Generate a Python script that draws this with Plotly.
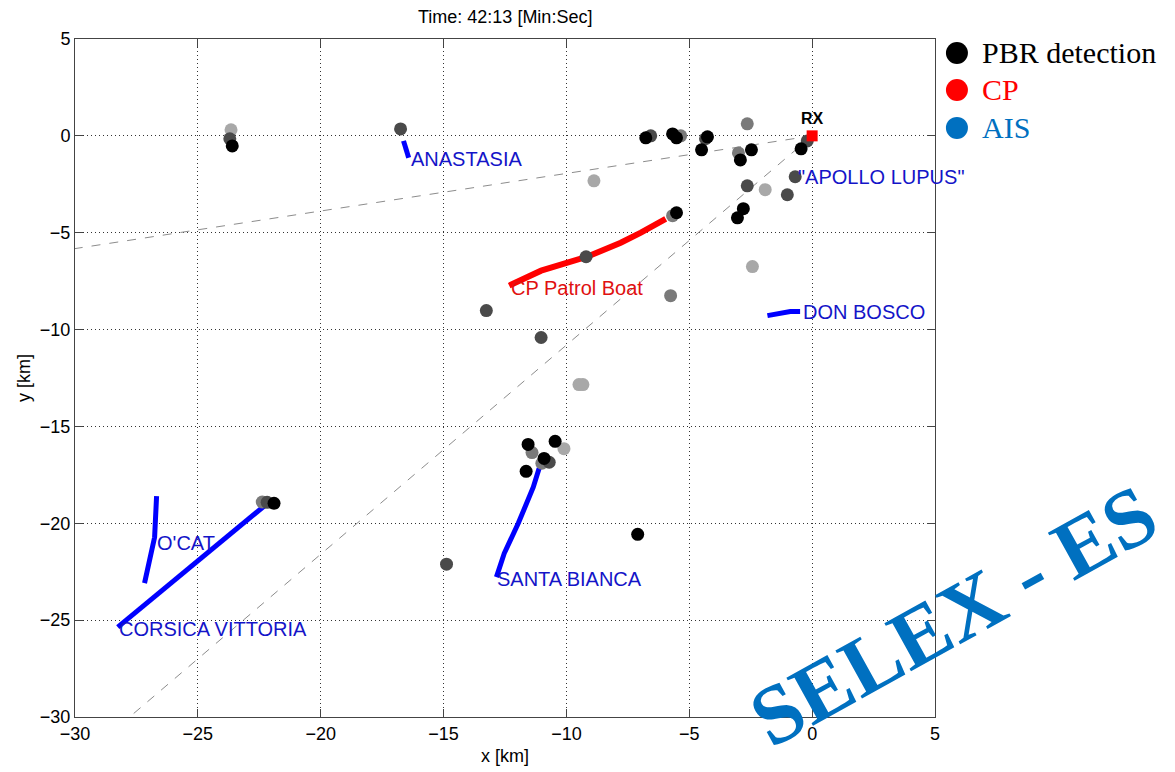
import plotly.graph_objects as go

# ---------------- data ----------------
title_text = "Time: 42:13 [Min:Sec]"
x_ticks = [-30, -25, -20, -15, -10, -5, 0, 5]
y_ticks = [5, 0, -5, -10, -15, -20, -25, -30]

# PBR detections: x [km], y [km], age (0 = newest/black ... 3 = oldest/light)
pbr_x = [-23.65, -23.7, -23.6, -16.75,
         -6.57, -6.77, -5.35, -5.68, -5.52, -4.34, -4.26, -4.50,
         -2.64, -3.0, -2.47, -2.92, -2.64, -1.91, -1.01, -0.69, -0.2, -0.45,
         -2.8, -3.04, -5.68, -5.52, -2.43, -5.76, -8.88, -9.2, -13.26, -11.03,
         -9.49, -9.33,
         -11.4, -11.56, -10.1, -10.46, -10.7, -11.0, -10.91, -11.64, -7.10, -14.88,
         -22.38, -22.18, -21.9]
pbr_y = [0.31, -0.15, -0.52, 0.36,
         0.0, -0.10, 0.0, 0.10, -0.10, -0.15, -0.05, -0.72,
         0.62, -0.88, -0.72, -1.24, -2.58, -2.78, -3.04, -2.11, -0.26, -0.67,
         -3.76, -4.23, -4.12, -3.97, -6.75, -8.25, -2.32, -6.24, -9.02, -10.41,
         -12.84, -12.84,
         -16.35, -15.93, -16.15, -15.77, -16.85, -16.9, -16.65, -17.32, -20.57, -22.11,
         -18.9, -18.92, -18.97]
pbr_age = [3, 1, 0, 1,
           1, 0, 2, 0, 0, 1, 0, 0,
           2, 2, 0, 0, 1, 3, 1, 1, 1, 0,
           0, 0, 2, 0, 3, 2, 3, 1, 1, 1,
           3, 3,
           2, 0, 3, 0, 1, 2, 0, 0, 0, 1,
           2, 1, 0]

# CP patrol boat track
cp_x = [-12.33, -11.03, -9.16, -7.79, -6.97, -5.96]
cp_y = [-7.73, -6.96, -6.24, -5.52, -5.00, -4.28]

# AIS tracks
ais_tracks = {
    "ANASTASIA": ([-16.63, -16.42], [-0.26, -1.13]),
    "DON BOSCO": ([-1.82, -0.89, -0.49], [-9.28, -9.07, -9.07]),
    "SANTA BIANCA": ([-11.11, -11.35, -11.96, -12.53, -12.85], [-17.16, -18.14, -20.0, -21.55, -22.78]),
    "CORSICA VITTORIA": ([-22.26, -28.26], [-19.07, -25.36]),
    "O'CAT": ([-26.68, -26.76, -27.17], [-18.6, -20.72, -23.09]),
}
ais_labels = ["ANASTASIA", "\"APOLLO LUPUS\"", "DON BOSCO", "SANTA BIANCA", "CORSICA VITTORIA", "O'CAT"]
ais_label_x = [-16.4, -0.65, -0.45, -12.9, -28.3, -26.75]
ais_label_y = [-1.2, -2.1, -9.1, -22.9, -25.45, -21.0]

cp_label = "CP Patrol Boat"
cp_label_x = -12.35
cp_label_y = -7.85

# beam edges from RX
beam1_x = [0, -30]
beam1_y = [0, -5.82]
beam2_x = [0, -27.78]
beam2_y = [0, -30]

rx_x = [0]
rx_y = [0]

legend_names = ["PBR detection", "CP", "AIS"]
legend_colors = ["#000000", "#ff0000", "#0070c0"]
watermark = "SELEX - ES"

# ---------------- figure ----------------
age_colors = {0: "#000000", 1: "#4a4a4a", 2: "#7a7a7a", 3: "#a8a8a8"}
fig = go.Figure()

for bx, by in [(beam1_x, beam1_y), (beam2_x, beam2_y)]:
    fig.add_trace(go.Scatter(x=bx, y=by, mode="lines", showlegend=False, hoverinfo="skip",
                             line=dict(color="#8c8c8c", width=1, dash="dash")))

for name, (tx, ty) in ais_tracks.items():
    fig.add_trace(go.Scatter(x=tx, y=ty, mode="lines", showlegend=False,
                             line=dict(color="#0000ff", width=5)))

fig.add_trace(go.Scatter(x=cp_x, y=cp_y, mode="lines", showlegend=False,
                         line=dict(color="#ff0000", width=6)))

for age in [3, 2, 1, 0]:
    xs = [x for x, a in zip(pbr_x, pbr_age) if a == age]
    ys = [y for y, a in zip(pbr_y, pbr_age) if a == age]
    fig.add_trace(go.Scatter(x=xs, y=ys, mode="markers", showlegend=False,
                             marker=dict(color=age_colors[age], size=13, line=dict(width=0))))

fig.add_trace(go.Scatter(x=rx_x, y=rx_y, mode="markers+text", showlegend=False,
                         text=["<b>RX</b>"], textposition="top center",
                         textfont=dict(family="Liberation Sans", size=16, color="black"),
                         marker=dict(color="#ff0000", size=11, symbol="square")))

annotations = []
shapes = []
for t, x, y in zip(ais_labels, ais_label_x, ais_label_y):
    annotations.append(dict(x=x, y=y, text=t, showarrow=False, xanchor="left", yanchor="middle",
                            font=dict(family="Liberation Sans", size=20, color="#1414c8")))
annotations.append(dict(x=cp_label_x, y=cp_label_y, text=cp_label, showarrow=False, xanchor="left",
                        yanchor="middle", font=dict(family="Liberation Sans", size=20, color="#e01010")))

# manual legend (outside right of plot area)
leg_y = [0.9794, 0.9249, 0.8689]
for nm, c, ly in zip(legend_names, legend_colors, leg_y):
    shapes.append(dict(type="circle", xref="paper", yref="paper", xsizemode="pixel", ysizemode="pixel",
                       xanchor=1.0255, yanchor=ly, x0=-11, x1=11, y0=-11, y1=11,
                       fillcolor=c, line=dict(width=0)))
    annotations.append(dict(xref="paper", yref="paper", x=1.0525, y=ly, text=nm, showarrow=False,
                            xanchor="left", yanchor="middle",
                            font=dict(family="Liberation Serif", size=30, color=c)))

annotations.append(dict(xref="paper", yref="paper", x=1.021, y=0.150, text=f"<b>{watermark}</b>",
                        showarrow=False, textangle=-29, xanchor="center", yanchor="middle",
                        font=dict(family="Liberation Serif", size=84, color="#0070c0")))
annotations.append(dict(xref="paper", yref="paper", x=0.5, y=1.0, yshift=22, text=title_text,
                        showarrow=False, xanchor="center", yanchor="middle",
                        font=dict(family="Liberation Sans", size=18, color="black")))

axis_common = dict(showgrid=True, gridcolor="#333333", griddash="1px,3px", gridwidth=1,
                   zeroline=False, showline=True, linecolor="#444444", linewidth=1, mirror="ticks",
                   ticks="inside", ticklen=8, tickcolor="#444444", automargin=False,
                   tickfont=dict(family="Liberation Sans", size=18, color="black"))

fig.update_layout(
    width=1175, height=772,
    margin=dict(l=75, r=240, t=39, b=55),
    plot_bgcolor="white", paper_bgcolor="white",
    xaxis=dict(range=[-30, 5], tickvals=x_ticks, title=dict(text="x [km]", standoff=6,
               font=dict(family="Liberation Sans", size=18, color="black")), **axis_common),
    yaxis=dict(range=[-30, 5], tickvals=y_ticks, title=dict(text="y [km]", standoff=4,
               font=dict(family="Liberation Sans", size=18, color="black")), **axis_common),
    annotations=annotations,
    shapes=shapes,
    showlegend=False,
)

fig.write_html("out.html", config={"displayModeBar": False},
               post_script="document.body.style.margin='0';")
